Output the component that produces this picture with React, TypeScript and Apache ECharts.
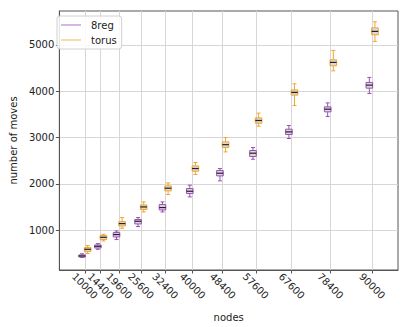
import React, { useEffect, useRef } from "react";
import * as echarts from "echarts";

const nodes = [10000, 14400, 19600, 25600, 32400, 40000, 48400, 57600, 67600, 78400, 90000];
const yTicks = [1000, 2000, 3000, 4000, 5000];

// [lower whisker, Q1, median, Q3, upper whisker]
const reg8Stats = [
  [412, 420, 443, 465, 490],
  [587, 615, 652, 680, 710],
  [797, 853, 905, 948, 983],
  [1078, 1134, 1192, 1229, 1272],
  [1393, 1437, 1488, 1553, 1609],
  [1717, 1790, 1840, 1898, 1970],
  [2063, 2171, 2229, 2287, 2330],
  [2531, 2590, 2661, 2719, 2784],
  [2978, 3065, 3121, 3179, 3259],
  [3454, 3553, 3611, 3661, 3747],
  [3950, 4065, 4130, 4188, 4296],
];

const torusStats = [
  [494, 538, 587, 624, 667],
  [767, 797, 846, 883, 911],
  [1041, 1090, 1142, 1186, 1272],
  [1393, 1445, 1501, 1544, 1609],
  [1769, 1847, 1905, 1955, 2020],
  [2201, 2272, 2330, 2387, 2460],
  [2689, 2784, 2845, 2905, 3000],
  [3244, 3309, 3367, 3423, 3525],
  [3691, 3914, 3972, 4028, 4158],
  [4439, 4547, 4620, 4676, 4879],
  [5074, 5216, 5290, 5367, 5497],
];

const FONT = "DejaVu Sans";
const PURPLE = "#9b4fb8";
const ORANGE = "#f2a52c";

function makeRender(color: string, dx: number) {
  return (params: any, api: any) => {
    const xv = api.value(0);
    const base = api.coord([xv, api.value(1)]);
    const cx = base[0] + dx;
    const yLo = base[1];
    const yQ1 = api.coord([xv, api.value(2)])[1];
    const yMed = api.coord([xv, api.value(3)])[1];
    const yQ3 = api.coord([xv, api.value(4)])[1];
    const yHi = api.coord([xv, api.value(5)])[1];
    const hw = 3.3;
    const cw = 2;
    const st = { stroke: color, lineWidth: 1, fill: null };
    return {
      type: "group",
      children: [
        { type: "line", shape: { x1: cx, y1: yLo, x2: cx, y2: yQ1 }, style: st },
        { type: "line", shape: { x1: cx, y1: yQ3, x2: cx, y2: yHi }, style: st },
        { type: "line", shape: { x1: cx - cw, y1: yLo, x2: cx + cw, y2: yLo }, style: st },
        { type: "line", shape: { x1: cx - cw, y1: yHi, x2: cx + cw, y2: yHi }, style: st },
        {
          type: "rect",
          shape: { x: cx - hw, y: yQ3, width: 2 * hw, height: yQ1 - yQ3 },
          style: { stroke: color, lineWidth: 1, fill: "rgba(150,150,150,0.35)" },
        },
        { type: "line", shape: { x1: cx - hw, y1: yMed, x2: cx + hw, y2: yMed }, style: { stroke: "#222", lineWidth: 1.2 } },
      ],
    };
  };
}

export default function App() {
  const ref = useRef<HTMLDivElement>(null);
  useEffect(() => {
    if (!ref.current) return;
    const chart = echarts.init(ref.current, null, { renderer: "svg" });
    const reg8Data = nodes.map((n, i) => [n, ...reg8Stats[i]]);
    const torusData = nodes.map((n, i) => [n, ...torusStats[i]]);
    const axisColor = "#555";
    const gridColor = "#d6d6d6";
    chart.setOption({
      animation: false,
      backgroundColor: "#fff",
      textStyle: { fontFamily: FONT },
      grid: { left: 53, right: 11, top: 11, bottom: 56, show: true, borderColor: axisColor, borderWidth: 1, backgroundColor: "transparent" },
      legend: {
        show: true,
        orient: "vertical",
        left: 57,
        top: 16,
        icon: "rect",
        itemWidth: 20,
        itemHeight: 1,
        itemGap: 3,
        padding: [3, 5, 3, 4],
        backgroundColor: "rgba(255,255,255,0.85)",
        borderColor: "#d0d0d0",
        borderWidth: 1,
        borderRadius: 3,
        textStyle: { fontSize: 10, fontFamily: FONT, color: "#222", lineHeight: 12, padding: [0, 0, 0, 5] },
        data: [
          { name: "8reg", itemStyle: { color: "#b06ec9" } },
          { name: "torus", itemStyle: { color: "#f0b55a" } },
        ],
      },
      xAxis: {
        type: "value",
        min: 2900,
        max: 97200,
        name: "nodes",
        nameLocation: "middle",
        nameGap: 42,
        nameTextStyle: { fontSize: 10, fontFamily: FONT, color: "#222" },
        axisLine: { show: true, lineStyle: { color: axisColor } },
        axisTick: { show: true, customValues: nodes, length: 3.5, lineStyle: { color: axisColor } },
        axisLabel: {
          customValues: nodes,
          rotate: -45,
          align: "center",
          verticalAlign: "middle",
          margin: 16,
          fontSize: 10,
          fontFamily: FONT,
          color: "#222",
          formatter: (v: number) => String(v),
        },
        splitLine: { show: true, lineStyle: { color: gridColor, width: 1 } },
      },
      yAxis: {
        type: "value",
        min: 140,
        max: 5730,
        name: "number of moves",
        nameLocation: "middle",
        nameGap: 36,
        nameTextStyle: { fontSize: 10, fontFamily: FONT, color: "#222" },
        axisLine: { show: true, lineStyle: { color: axisColor } },
        axisTick: { show: true, customValues: yTicks, length: 3.5, lineStyle: { color: axisColor } },
        axisLabel: {
          customValues: yTicks,
          margin: 5,
          fontSize: 10,
          fontFamily: FONT,
          color: "#222",
          formatter: (v: number) => String(v),
        },
        splitLine: { show: true, lineStyle: { color: gridColor, width: 1 } },
      },
      series: [
        {
          name: "8reg",
          type: "custom",
          renderItem: makeRender(PURPLE, -2.8),
          itemStyle: { color: PURPLE },
          encode: { x: 0, y: [1, 2, 3, 4, 5] },
          data: reg8Data,
        },
        {
          name: "torus",
          type: "custom",
          renderItem: makeRender(ORANGE, 2.8),
          itemStyle: { color: ORANGE },
          encode: { x: 0, y: [1, 2, 3, 4, 5] },
          data: torusData,
        },
      ],
    });
    return () => chart.dispose();
  }, []);
  return <div ref={ref} style={{ position: "fixed", left: 0, top: 0, width: 409, height: 327 }} />;
}
